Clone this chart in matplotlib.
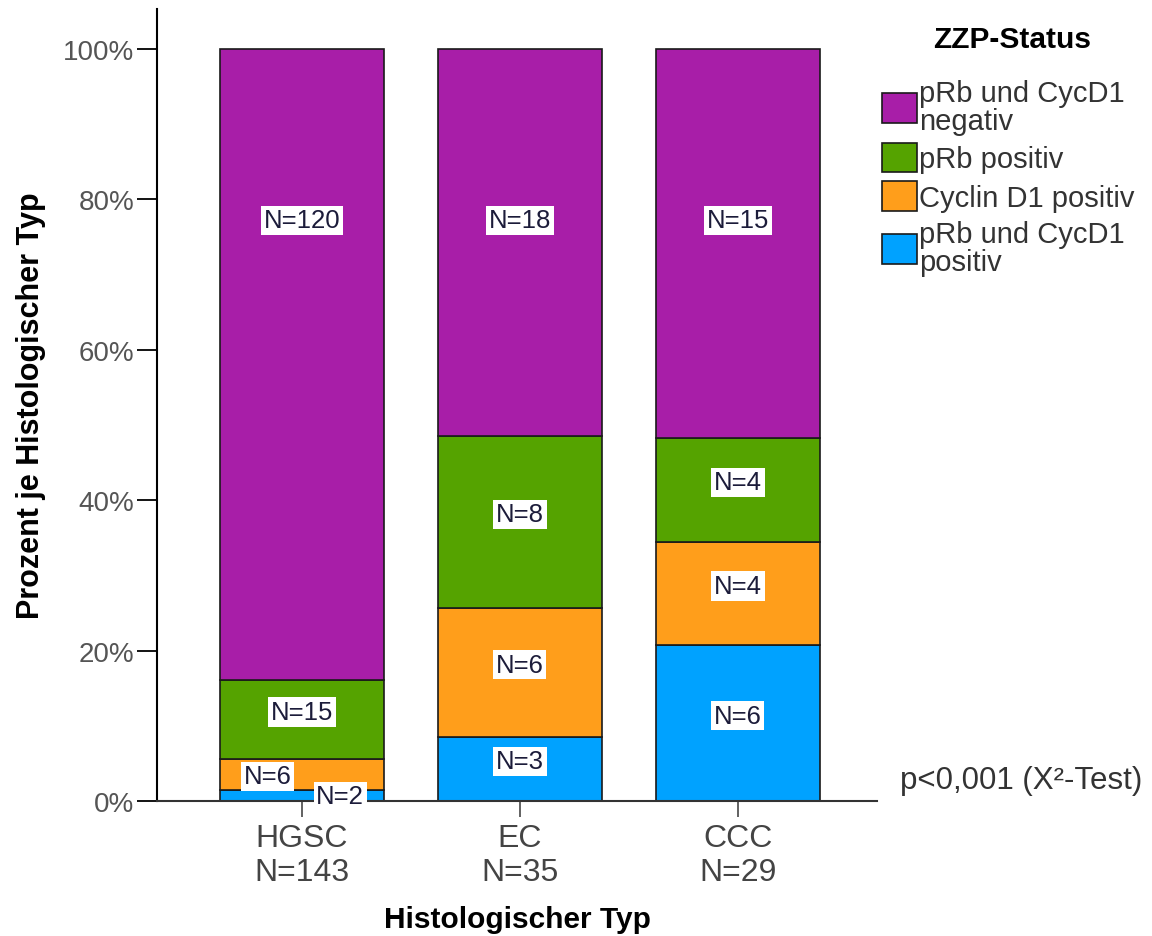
import numpy as np
import matplotlib
matplotlib.use("Agg")
import matplotlib.pyplot as plt
from matplotlib.patches import Patch

plt.rcParams['font.family'] = ['Liberation Sans', 'DejaVu Sans']

# Daten
kategorien = ["HGSC", "EC", "CCC"]
gesamt_n = [143, 35, 29]
status = ["pRb und CycD1 positiv", "Cyclin D1 positiv", "pRb positiv", "pRb und CycD1 negativ"]
legend_labels = ["pRb und CycD1\nnegativ", "pRb positiv", "Cyclin D1 positiv", "pRb und CycD1\npositiv"]
n_beide_pos = [2, 3, 6]
n_cycd1_pos = [6, 6, 4]
n_prb_pos = [15, 8, 4]
n_beide_neg = [120, 18, 15]
farben = ["#00A2FF", "#FF9E1B", "#55A300", "#A81EA8"]

counts = np.array([n_beide_pos, n_cycd1_pos, n_prb_pos, n_beide_neg], dtype=float)
prozent = counts / counts.sum(axis=0) * 100

fig = plt.figure(figsize=(11.52, 9.37), dpi=100)
ax = fig.add_axes([0.1363, 0.1441, 0.625, 0.8452])

x = np.arange(len(kategorien))
bottom = np.zeros(len(kategorien))
for i in range(len(status)):
    ax.bar(x, prozent[i], bottom=bottom, width=0.752, color=farben[i],
           edgecolor="#1a1a1a", linewidth=1.2, zorder=2)
    for j in range(len(kategorien)):
        xm = x[j]
        ym = bottom[j] + prozent[i][j] / 2 + 1
        if i == len(status) - 1:
            # SPSS setzt die obersten Beschriftungen auf gleiche Hoehe
            ym = 77.2
        # kleine Segmente bei HGSC versetzt (wie in SPSS)
        if j == 0 and i == 0:
            xm, ym = x[j] + 0.175, bottom[j] + prozent[i][j] / 2 - 0.1
        elif j == 0 and i == 1:
            xm, ym = x[j] - 0.156, bottom[j] + prozent[i][j] / 2 - 0.2
        ax.text(xm, ym, f"N={int(counts[i][j])}", ha="center", va="center",
                fontsize=18.5, color="#1c1c3a", zorder=3,
                bbox=dict(boxstyle="square,pad=0.1", facecolor="white", edgecolor="none"))
    bottom += prozent[i]

ax.set_xlim(-0.665, 2.638)
ax.set_ylim(0, 105.3)
ax.set_yticks([0, 20, 40, 60, 80, 100])
ax.set_yticklabels(["0%", "20%", "40%", "60%", "80%", "100%"])
ax.set_xticks(x)
ax.set_xticklabels([f"{k}\nN={n}" for k, n in zip(kategorien, gesamt_n)])
ax.tick_params(axis="y", length=14.4, width=1.3, labelsize=20, labelcolor="#555555", pad=2)
ax.tick_params(axis="x", length=11.5, width=1.3, labelsize=23, labelcolor="#444444", pad=4,
               color="#555555")

for s in ["top", "right"]:
    ax.spines[s].set_visible(False)
ax.spines["left"].set_linewidth(1.5)
ax.spines["bottom"].set_linewidth(1.5)
ax.spines["bottom"].set_color("#333333")

ax.set_xlabel("Histologischer Typ", fontsize=21.5, fontweight="bold", labelpad=13)
ax.set_ylabel("Prozent je Histologischer Typ", fontsize=22, fontweight="bold", labelpad=12)

# Legende
fig.text(0.879, 0.957, "ZZP-Status", fontsize=21.5, fontweight="bold", ha="center", va="center")
handles = [Patch(facecolor=farben[3 - k], edgecolor="#1a1a1a", linewidth=1.2) for k in range(4)]
leg = fig.legend(handles, legend_labels, loc="upper left",
                 bbox_to_anchor=(0.766, 0.915), frameon=False, fontsize=21,
                 handlelength=1.2, handleheight=1.2, handletextpad=0.05,
                 labelspacing=0.27, borderaxespad=0, borderpad=0)
for t in leg.get_texts():
    t.set_color("#333333")
    t.set_linespacing(1.0)

fig.text(0.781, 0.167, "p<0,001 (X²-Test)", fontsize=22.5, color="#333333", ha="left", va="center")

fig.savefig("out.png", dpi=100)
